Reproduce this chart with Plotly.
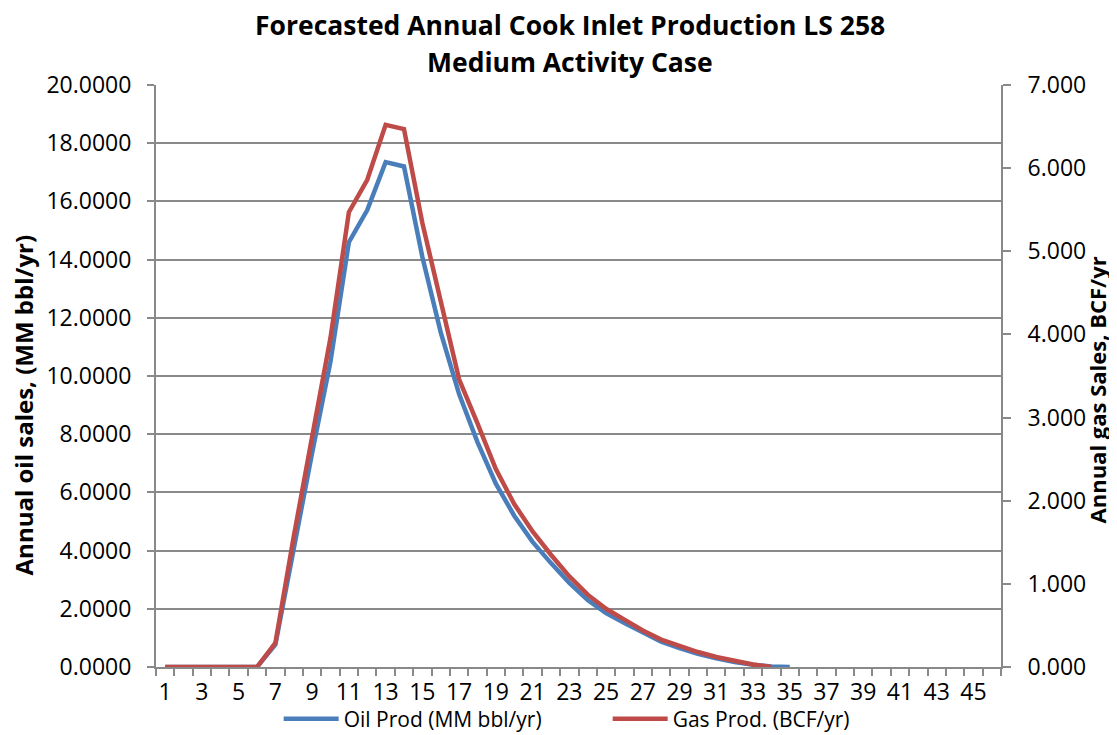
import plotly.graph_objects as go

# år 1..46 på x-aksen, data leses av figuren
aar = list(range(1, 47))

olje_aar = list(range(1, 36))
olje_prod = [
    0.0, 0.0, 0.0, 0.0, 0.0, 0.0, 0.77, 4.16, 7.36, 10.5,
    14.6, 15.7, 17.35, 17.2, 14.09, 11.5, 9.38, 7.73, 6.3, 5.2,
    4.3, 3.57, 2.89, 2.30, 1.85, 1.51, 1.17, 0.87, 0.65, 0.45,
    0.30, 0.17, 0.08, 0.02, 0.0,
]

gass_aar = list(range(1, 35))
gass_prod = [
    0.0, 0.0, 0.0, 0.0, 0.0, 0.0, 0.29, 1.57, 2.77, 3.96,
    5.47, 5.86, 6.52, 6.47, 5.34, 4.38, 3.46, 2.93, 2.38, 1.96,
    1.63, 1.35, 1.09, 0.87, 0.70, 0.57, 0.44, 0.33, 0.25, 0.18,
    0.12, 0.07, 0.03, 0.0,
]

x_etiketter = [a for a in aar if a % 2 == 1]

farge_olje = "#4A7EBB"
farge_gass = "#BE4B48"
grå = "#898989"
font = "Open Sans"
tick_str = 23

fig = go.Figure()

fig.add_trace(
    go.Scatter(
        x=olje_aar,
        y=olje_prod,
        name="Oil Prod (MM bbl/yr)",
        mode="lines",
        line=dict(color=farge_olje, width=4.5),
        yaxis="y",
    )
)
fig.add_trace(
    go.Scatter(
        x=gass_aar,
        y=gass_prod,
        name="Gas Prod. (BCF/yr)",
        mode="lines",
        line=dict(color=farge_gass, width=4.5),
        yaxis="y2",
    )
)

# siden har 8 px marg i body, så figuren gjøres 8 px mindre
fig.update_layout(
    width=1109,
    height=727,
    margin=dict(l=148, r=116, t=77, b=68, autoexpand=False),
    paper_bgcolor="white",
    plot_bgcolor="white",
    font=dict(family=font, size=20, color="black"),
    xaxis=dict(
        range=[0.5, 46.5],
        tickmode="array",
        tickvals=x_etiketter,
        ticktext=[str(a) for a in x_etiketter],
        ticks="",
        ticklabelstandoff=3,
        showgrid=False,
        zeroline=False,
        showline=True,
        linecolor=grå,
        linewidth=2,
        automargin=False,
        minor=dict(
            tickmode="linear",
            tick0=0.5,
            dtick=1,
            ticks="outside",
            ticklen=7,
            tickwidth=1.5,
            tickcolor=grå,
            showgrid=False,
        ),
        tickfont=dict(size=tick_str),
    ),
    yaxis=dict(
        range=[0, 20],
        dtick=2,
        tickformat=".4f",
        ticks="outside",
        ticklen=7,
        tickwidth=1.5,
        tickcolor=grå,
        ticklabelstandoff=11,
        showgrid=True,
        gridcolor=grå,
        gridwidth=1.5,
        zeroline=False,
        showline=True,
        linecolor=grå,
        linewidth=2,
        automargin=False,
        tickfont=dict(size=tick_str),
    ),
    yaxis2=dict(
        range=[0, 7],
        dtick=1,
        tickformat=".3f",
        overlaying="y",
        side="right",
        ticks="outside",
        ticklen=8,
        tickwidth=1.5,
        tickcolor=grå,
        ticklabelstandoff=12,
        showgrid=False,
        zeroline=False,
        showline=True,
        linecolor=grå,
        linewidth=2,
        automargin=False,
        tickfont=dict(size=tick_str),
    ),
    legend=dict(
        orientation="h",
        x=0.5345,
        xanchor="center",
        yref="container",
        y=0.022,
        yanchor="middle",
        font=dict(size=21),
        itemwidth=55,
        entrywidth=259,
        bgcolor="rgba(0,0,0,0)",
    ),
    annotations=[
        dict(
            text="<b>Forecasted Annual Cook Inlet Production LS 258</b>",
            xref="paper",
            yref="paper",
            x=0.49,
            y=1.103,
            xanchor="center",
            yanchor="middle",
            showarrow=False,
            font=dict(size=26.5),
        ),
        dict(
            text="<b>Medium Activity Case</b>",
            xref="paper",
            yref="paper",
            x=0.49,
            y=1.0395,
            xanchor="center",
            yanchor="middle",
            showarrow=False,
            font=dict(size=26.5),
        ),
        dict(
            text="<b>Annual oil sales, (MM bbl/yr)</b>",
            xref="paper",
            yref="paper",
            x=-0.157,
            y=0.45,
            xanchor="center",
            yanchor="middle",
            textangle=-90,
            showarrow=False,
            font=dict(size=24),
        ),
        dict(
            text="<b>Annual gas Sales, BCF/yr</b>",
            xref="paper",
            yref="paper",
            x=1.113,
            y=0.476,
            xanchor="center",
            yanchor="middle",
            textangle=-90,
            showarrow=False,
            font=dict(size=22),
        ),
    ],
)

fig.write_html("out.html")
